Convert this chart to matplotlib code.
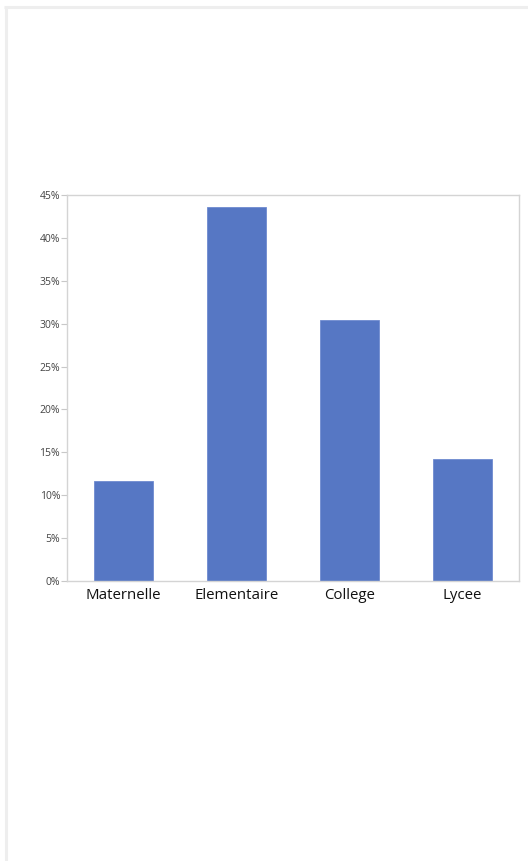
import matplotlib
matplotlib.use('Agg')
import matplotlib.pyplot as plt
from matplotlib.lines import Line2D
from matplotlib.ticker import PercentFormatter

# School levels and their share of pupils (%)
levels = ['Maternelle', 'Elementaire', 'College', 'Lycee']
shares = [11.7, 43.6, 30.4, 14.2]
y_ticks = [0, 5, 10, 15, 20, 25, 30, 35, 40, 45]

plt.rcParams['font.family'] = ['Open Sans', 'DejaVu Sans']

fig = plt.figure(figsize=(5.28, 8.61), dpi=100)
W, H = 528, 861

# light grey frame along the top and left of the page
frame = '#eeeeee'
fig.add_artist(Line2D([5.5 / W, 5.5 / W], [0, 1 - 6.5 / H], transform=fig.transFigure,
                      color=frame, lw=2.2, solid_capstyle='butt'))
fig.add_artist(Line2D([4 / W, 1], [1 - 6.5 / H, 1 - 6.5 / H], transform=fig.transFigure,
                      color=frame, lw=2.2, solid_capstyle='butt'))

ax = fig.add_axes([67 / W, 1 - 581 / H, (519 - 67) / W, (581 - 195) / H])

x = range(len(levels))
ax.bar(x, shares, width=0.53, color='#5677c4', edgecolor='#6f8bd0', linewidth=0.6)

ax.set_xlim(-0.5, len(levels) - 0.5)
ax.set_ylim(0, 45)
ax.set_yticks(y_ticks)
ax.yaxis.set_major_formatter(PercentFormatter(decimals=0))
ax.set_xticks(list(x))
ax.set_xticklabels(levels, fontsize=10.8, color='#111111')

for side in ['top', 'right', 'left', 'bottom']:
    ax.spines[side].set_color('#d4d4d4')
    ax.spines[side].set_linewidth(1.0)

ax.tick_params(axis='y', length=4, width=0.8, color='#c8c8c8', labelsize=7.5,
               labelcolor='#444444', pad=1)
ax.tick_params(axis='x', length=0, pad=5)

fig.savefig('out.png', dpi=100)
